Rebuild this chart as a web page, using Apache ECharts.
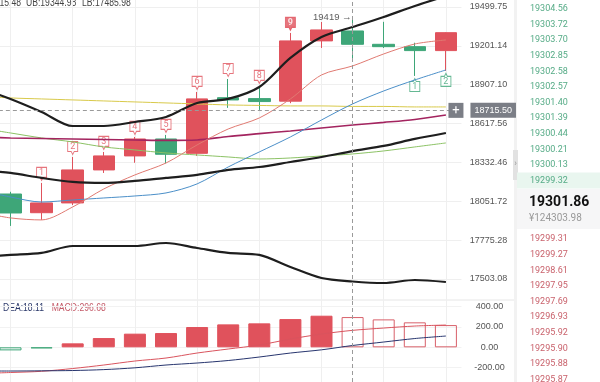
<!DOCTYPE html>
<html><head><meta charset="utf-8">
<script src="https://cdn.jsdelivr.net/npm/echarts@6/dist/echarts.min.js"></script>
<style>html,body{margin:0;padding:0;background:#fff}#c{width:600px;height:382px}</style>
</head><body><div id="c"></div>
<script>
// ---------- data ----------
const categories = ['k00','k01','k02','k03','k04','k05','k06','k07','k08','k09','k10','k11','k12','k13','k14','k15'];
// [open, close, low, high]
const candles = [
  '-',
  [18104, 17968, 17876, 18120],
  [17970, 18040, 17919, 18184],
  [18040, 18278, 18025, 18372],
  [18278, 18380, 18256, 18409],
  [18380, 18504, 18330, 18519],
  [18504, 18392, 18326, 18534],
  [18399, 18801, 18380, 18853],
  [18810, 18793, 18734, 18950],
  [18803, 18781, 18719, 18898],
  [18784, 19239, 18769, 19300],
  [19239, 19323, 19185, 19384],
  [19315, 19213, 19094, 19419],
  [19213, 19195, 19185, 19385],
  [19195, 19165, 18973, 19225],
  [19165, 19301.86, 19011, 19305]
];
const bollUB = [18882.6, 18800.6, 18703.8, 18599.7, 18599.7, 18629.2, 18666.5, 18770.8, 18800.6, 18890.0, 19109.3, 19269.2, 19344.98, 19422.9, 19507.5, 19584.9];
const bollMB = [18277.8, 18256.1, 18220.0, 18191.1, 18183.9, 18198.3, 18220.0, 18241.7, 18277.8, 18299.4, 18335.6, 18372.3, 18415.48, 18453.0, 18504.4, 18548.3];
const bollLB = [17657.2, 17671.2, 17685.2, 17734.2, 17734.2, 17734.2, 17755.2, 17720.2, 17685.2, 17671.2, 17587.1, 17510.1, 17485.98, 17475.3, 17496.1, 17482.2];
const maRed = [17975.5, 17932.8, 17918.6, 18011.0, 18140.5, 18241.7, 18328.3, 18460.3, 18577.7, 18659.1, 18800.6, 18980.6, 19048.6, 19139.5, 19215.4, 19246.2];
const maBlue = [18133.3, 18082.7, 18046.7, 18061.1, 18075.5, 18089.9, 18111.7, 18176.8, 18299.4, 18409.0, 18519.0, 18644.2, 18763.4, 18860.2, 18942.8, 19018.4];
const maPurple = [18519.0, 18511.7, 18508.0, 18504.4, 18500.7, 18497.0, 18493.4, 18497.0, 18522.7, 18543.2, 18563.0, 18585.1, 18607.1, 18626.3, 18647.9, 18681.4];
const maGreen = [18585.1, 18548.3, 18511.7, 18482.3, 18445.6, 18423.6, 18401.6, 18386.9, 18372.3, 18357.6, 18364.9, 18379.6, 18394.3, 18416.3, 18445.6, 18474.9];
const maYellow = [18823.0, 18808.1, 18800.6, 18793.2, 18785.7, 18778.3, 18770.8, 18763.4, 18755.9, 18752.2, 18748.5, 18748.5, 18744.7, 18744.7, 18741.0, 18741.0];
const macdHist = [-45, -30, -10, 39, 91, 134, 140, 199, 225, 235, 277, 310, 296.68, 274, 245, 218];
const difLine = [-256.8, -247.0, -235.2, -207.8, -173.5, -134.3, -104.9, -55.9, -16.7, 22.5, 81.3, 130.3, 166.45, 189.1, 208.7, 218.5];
const deaLine = [-232.3, -232.3, -230.3, -227.4, -218.5, -200.9, -173.5, -153.9, -129.4, -95.1, -56.0, -24.5, 18.11, 51.9, 86.2, 110.7];
const priceTicks = [17503.08, 17775.28, 18051.72, 18332.46, 18617.56, 18907.10, 19201.14, 19499.75];
const macdTicks = [-200, 0, 200, 400];
const tdSellIdx = [2, 3, 4, 5, 6, 7, 8, 9, 10];
const tdSellCount = [1, 2, 3, 4, 5, 6, 7, 8, 9];
const tdBuyIdx = [14, 15];
const tdBuyCount = [1, 2];
const asks = ['19304.56','19303.72','19303.70','19302.85','19302.58','19302.57','19301.40','19301.39','19300.44','19300.21','19300.13','19299.32'];
const bids = ['19299.31','19299.27','19298.61','19297.95','19297.69','19296.93','19295.92','19295.90','19295.88','19295.87'];
const lastPrice = 19301.86;
const lastAmount = '¥124303.98';
const crossIndex = 12;
const crossPrice = 18715.50;

// ---------- styling ----------
const SANS = "'Liberation Sans',Arial,sans-serif";
const ROBOTO = "Roboto,'Noto Sans',sans-serif";
const RED = '#e0525c', GREEN = '#3ea678', HOLLOW_RED = '#d8606a';
const N = categories.length, STEP = 31.1;
const GL = -36.15, GW = STEP * N;
const AXIS_FS = 9;

const macdBars = macdHist.map((v, i) => {
  const prev = i > 0 ? macdHist[i - 1] : v;
  let filled, col;
  if (v >= 0) { col = RED; filled = v >= prev; } else { col = GREEN; filled = Math.abs(v) >= Math.abs(prev); }
  return { value: v, itemStyle: filled ? { color: col, borderColor: col, borderWidth: 1 }
                                        : { color: 'rgba(0,0,0,0)', borderColor: v >= 0 ? HOLLOW_RED : GREEN, borderWidth: 1 } };
});

function line(name, data, color, width) {
  return { name, type: 'line', xAxisIndex: 0, yAxisIndex: 0, data, showSymbol: false, smooth: 0.3,
           lineStyle: { color, width }, itemStyle: { color }, silent: true };
}

const sellMarks = tdSellIdx.map((idx, k) => {
  const last = k === tdSellIdx.length - 1;
  return { value: [idx, candles[idx][3]], count: tdSellCount[k],
    itemStyle: last ? { color: RED, borderColor: RED, borderWidth: 1 } : { color: '#fff', borderColor: RED, borderWidth: 1 },
    label: { color: last ? '#fff' : RED, fontWeight: last ? 'bold' : 'normal' } };
});
const buyMarks = tdBuyIdx.map((idx, k) => ({ value: [idx, candles[idx][2]], count: tdBuyCount[k] }));

const dashed = { color: '#9a9a9a', type: [4, 3], width: 1 };

function txt(x, y, text, fill, size, align, sx) {
  return { type: 'text', x, y, scaleX: sx || 1, scaleY: 1,
           style: { text, fill, font: size + 'px ' + SANS, textAlign: align, textVerticalAlign: 'middle' } };
}
const gfx = [];
// header texts
gfx.push(txt(21, 3.5, 'MB:' + bollMB[crossIndex].toFixed(2), '#444', 10, 'right', 0.86));
gfx.push(txt(26, 3.5, 'UB:' + bollUB[crossIndex].toFixed(2), '#444', 10, 'left', 0.86));
gfx.push(txt(82, 3.5, 'LB:' + bollLB[crossIndex].toFixed(2), '#444', 10, 'left', 0.86));
gfx.push(txt(3, 308.5, 'DEA:' + deaLine[crossIndex].toFixed(2), '#2d3a6b', 10, 'left', 0.86));
gfx.push(txt(51.7, 308.5, 'MACD:' + macdHist[crossIndex].toFixed(2), '#c45a68', 10, 'left', 0.86));
// panel separator
gfx.push({ type: 'line', shape: { x1: 0, y1: 300, x2: 515, y2: 300 }, style: { stroke: '#e6e6e6', lineWidth: 1 } });
// right order-book panel
gfx.push({ type: 'rect', shape: { x: 514, y: 0, width: 3, height: 382 }, style: { fill: '#f2f2f2' } });
gfx.push({ type: 'rect', shape: { x: 513, y: 150, width: 5, height: 30 }, style: { fill: '#e2e2e2' } });
gfx.push({ type: 'text', x: 515.5, y: 164, style: { text: '›', fill: '#999', font: '9px ' + ROBOTO, textAlign: 'center', textVerticalAlign: 'middle' } });
gfx.push({ type: 'rect', shape: { x: 517, y: 172.5, width: 83, height: 16 }, style: { fill: '#e9f6ef' } });
gfx.push({ type: 'rect', shape: { x: 517, y: 189, width: 83, height: 40 }, style: { fill: '#f6f6f7' } });
asks.forEach((p, i) => gfx.push({ type: 'text', x: 530, y: 9 + i * 15.6, style: { text: p, fill: '#55ab86', font: '9px ' + ROBOTO, textAlign: 'left', textVerticalAlign: 'middle' } }));
bids.forEach((p, i) => gfx.push({ type: 'text', x: 530, y: 239 + i * 15.63, style: { text: p, fill: '#c9626c', font: '9px ' + ROBOTO, textAlign: 'left', textVerticalAlign: 'middle' } }));
gfx.push({ type: 'text', x: 529, y: 202, style: { text: lastPrice.toFixed(2), fill: '#111', font: 'bold 14px ' + ROBOTO, textAlign: 'left', textVerticalAlign: 'middle' } });
gfx.push({ type: 'text', x: 529, y: 218.5, style: { text: lastAmount, fill: '#999', font: '10px ' + ROBOTO, textAlign: 'left', textVerticalAlign: 'middle' } });

const option = {
  animation: false,
  backgroundColor: '#fff',
  textStyle: { fontFamily: SANS },
  grid: [
    { left: GL, top: 0, width: GW, height: 300, outerBoundsMode: 'none', containLabel: false },
    { left: GL, top: 300, width: GW, height: 82, outerBoundsMode: 'none', containLabel: false }
  ],
  xAxis: [0, 1].map(g => ({
    type: 'category', gridIndex: g, data: categories, boundaryGap: true,
    axisLine: { show: false }, axisTick: { show: false }, axisLabel: { show: false },
    splitLine: { show: true, alignWithLabel: true, interval: (i) => i % 2 === 1, lineStyle: { color: '#efefef', width: 1 } }
  })),
  yAxis: [
    { type: 'log', logBase: 10, gridIndex: 0, position: 'right', min: 17357.8, max: 19554.0,
      axisLine: { show: false }, axisTick: { show: false, customValues: priceTicks },
      axisLabel: { customValues: priceTicks, formatter: v => Number(v).toFixed(2), color: '#555', fontSize: AXIS_FS, fontFamily: SANS, align: 'center', margin: 27 },
      splitLine: { show: true, lineStyle: { color: '#efefef', width: 1 } } },
    { type: 'value', gridIndex: 1, position: 'right', min: -340, max: 464,
      axisLine: { show: false }, axisTick: { show: false, customValues: macdTicks },
      axisLabel: { customValues: macdTicks, formatter: v => Number(v).toFixed(2), color: '#555', fontSize: AXIS_FS, fontFamily: SANS, align: 'center', margin: 28 },
      splitLine: { show: true, lineStyle: { color: '#f2f2f2', width: 1 } } }
  ],
  series: [
    { type: 'candlestick', xAxisIndex: 0, yAxisIndex: 0, data: candles, barWidth: 22, silent: true,
      itemStyle: { color: RED, color0: GREEN, borderColor: RED, borderColor0: GREEN, borderWidth: 1 },
      markLine: { symbol: ['none', 'none'], silent: true, animation: false, data: [
        { xAxis: categories[crossIndex], lineStyle: dashed, label: { show: false } },
        { yAxis: crossPrice, lineStyle: dashed,
          label: { show: true, position: 'end', distance: -13,
            formatter: p => '{p|+}{g|}{v|' + Number(p.value).toFixed(2) + '}',
            rich: {
              p: { backgroundColor: '#7b7e86', color: '#fff', width: 15, height: 15, lineHeight: 15, align: 'center', fontSize: 13, fontFamily: ROBOTO },
              g: { width: 7, height: 15 },
              v: { backgroundColor: '#7b7e86', color: '#fff', height: 15, lineHeight: 15, padding: [0, 4, 0, 4], fontSize: AXIS_FS, fontFamily: SANS }
            } } },
        { yAxis: lastPrice, lineStyle: { opacity: 0, width: 0 },
          label: { show: true, position: 'end', distance: 9, formatter: p => Number(p.value).toFixed(2),
            backgroundColor: RED, color: '#fff', padding: [3, 4, 3, 4], fontSize: AXIS_FS, fontFamily: SANS } }
      ] } },
    line('ma120', maYellow, '#d8c94a', 1),
    line('ma60', maGreen, '#8cc265', 1),
    line('ma30', maPurple, '#a3245f', 1.6),
    line('ma10', maBlue, '#4b8fc8', 1),
    line('ma5', maRed, '#e07a72', 1),
    line('UB', bollUB, '#1e1e1e', 2.2),
    line('MB', bollMB, '#1e1e1e', 2.2),
    line('LB', bollLB, '#1e1e1e', 2.2),
    { type: 'scatter', xAxisIndex: 0, yAxisIndex: 0, silent: true,
      symbol: 'path://M0,0H10V10H6.5L5,13L3.5,10H0Z', symbolSize: [10, 13], symbolOffset: [0, -9],
      data: sellMarks,
      label: { show: true, position: 'inside', offset: [0, -1.5], formatter: p => String(p.data.count), fontSize: 9, fontFamily: ROBOTO } },
    { type: 'scatter', xAxisIndex: 0, yAxisIndex: 0, silent: true,
      symbol: 'path://M0,3H3.5L5,0L6.5,3H10V13H0Z', symbolSize: [10, 13], symbolOffset: [0, 9],
      itemStyle: { color: '#fff', borderColor: GREEN, borderWidth: 1 },
      data: buyMarks,
      label: { show: true, position: 'inside', offset: [0, 1.5], color: GREEN, formatter: p => String(p.data.count), fontSize: 9, fontFamily: ROBOTO } },
    { type: 'scatter', xAxisIndex: 0, yAxisIndex: 0, silent: true, symbolSize: 0,
      itemStyle: { color: 'rgba(0,0,0,0)' },
      data: [[crossIndex, candles[crossIndex][3]]],
      label: { show: true, position: 'left', distance: 1, formatter: p => p.value[1] + ' \u2192', color: '#333', fontSize: 9.5, fontFamily: SANS } },
    { type: 'bar', xAxisIndex: 1, yAxisIndex: 1, data: macdBars, barWidth: 22, silent: true,
      markLine: { symbol: ['none', 'none'], silent: true, animation: false, label: { show: false },
        data: [{ xAxis: categories[crossIndex], lineStyle: dashed }] } },
    { type: 'line', xAxisIndex: 1, yAxisIndex: 1, data: difLine, showSymbol: false, smooth: 0.3, silent: true, lineStyle: { color: '#d9545e', width: 1 } },
    { type: 'line', xAxisIndex: 1, yAxisIndex: 1, data: deaLine, showSymbol: false, smooth: 0.3, silent: true, lineStyle: { color: '#27356e', width: 1 } }
  ],
  graphic: gfx
};

const chart = echarts.init(document.getElementById('c'), null, { renderer: 'canvas' });
chart.setOption(option);
</script>
</body></html>
